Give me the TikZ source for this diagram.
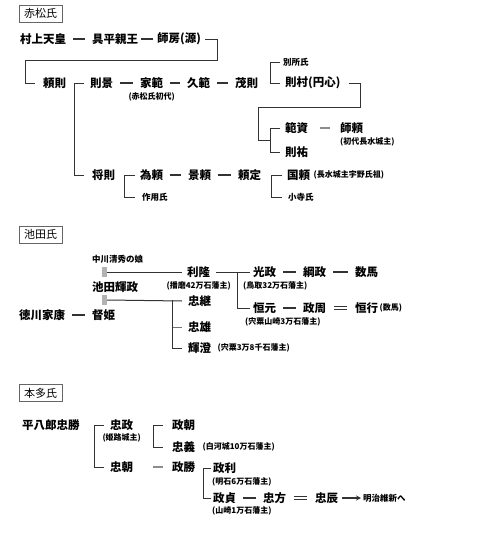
\documentclass[tikz,border=0pt]{standalone}
\usepackage{fontspec}
\setmainfont{Noto Sans CJK JP}
\usetikzlibrary{positioning, arrows.meta}

\begin{document}
\begin{tikzpicture}[x=1pt, y=-1pt,
    person/.style={anchor=west, inner sep=0pt, font=\fontsize{11.5}{12}\selectfont\bfseries},
    minor/.style={anchor=west, inner sep=0pt, font=\fontsize{8.5}{9}\selectfont\bfseries},
    memo/.style={inner sep=0pt, font=\fontsize{8}{9}\selectfont\bfseries},
    clanbox/.style={draw=black!60, line width=0.8pt, minimum width=43pt, minimum height=17pt,
      inner sep=0pt, font=\fontsize{11}{12}\selectfont},
    wedbar/.style={fill=black!30, minimum width=5pt, minimum height=10pt, inner sep=0pt},
    link/.style={black!80, line width=1pt},
    dashlink/.style={black!80, line width=1.4pt, shorten <=7pt, shorten >=7pt},
    eqlink/.style={black!80, double, double distance=2.2pt, line width=0.7pt, shorten <=8pt, shorten >=8pt},
  ]
    \useasboundingbox (0,0) rectangle (480,538);

    % 赤松氏
    \node[clanbox] (akamatsu) at (40.5,13.5) {赤松氏};
    \node[person] (murakami) at (20,39) {村上天皇};
    \node[person] (tomohira) at (92,39) {具平親王};
    \node[person] (morofusa) at (157,39) {師房(源)};
    \node[person] (yorinori) at (43,83) {頼則};
    \node[person] (norikage) at (90,83) {則景};
    \node[person] (kanori) at (140,83) {家範};
    \node[memo, below=4pt of kanori] {(赤松氏初代)};
    \node[person] (hisanori) at (187,83) {久範};
    \node[person] (shigenori) at (235,83) {茂則};
    \node[minor] (bessho) at (283,62) {別所氏};
    \node[person] (norimura) at (285,83) {則村(円心)};
    \node[person] (norisuke) at (285,128) {範資};
    \node[person] (moroyori) at (340,128) {師頼};
    \node[memo, anchor=north west] at ([yshift=-4pt]moroyori.south west) {(初代長水城主)};
    \node[person] (sokuyu) at (285,152) {則祐};
    \node[person] (masanori) at (92,175) {将則};
    \node[person] (tameyori) at (140,175) {為頼};
    \node[minor] (sayo) at (142,197) {作用氏};
    \node[person] (kageyori) at (188,175) {景頼};
    \node[person] (yorisada) at (238,175) {頼定};
    \node[person] (kuniyori) at (287,175) {国頼};
    \node[memo, right=3pt of kuniyori] {(長水城主宇野氏祖)};
    \node[minor] (kodera) at (288,197) {小寺氏};

    \draw[dashlink] (murakami) -- (tomohira);
    \draw[dashlink, shorten <=3pt, shorten >=4pt] (tomohira) -- (morofusa);
    \draw[link] ([xshift=4pt]morofusa.east) -| (217,60) -| (25,83) -- ([xshift=-8pt]yorinori.west);
    \draw[link] ([xshift=-6pt]norikage.west) -- ++(-10,0) |- ([xshift=-8pt]masanori.west);
    \draw[dashlink] (norikage) -- (kanori);
    \draw[dashlink] (kanori) -- (hisanori);
    \draw[dashlink] (hisanori) -- (shigenori);
    \draw[link] ([xshift=-3pt]bessho.west) -- ++(-10,0) |- ([xshift=-5pt]norimura.west);
    \draw[link] ([xshift=8pt]norimura.east) -| (360,107) -| (258,140) -- (270,140);
    \draw[link] ([xshift=-5pt]norisuke.west) -- ++(-10,0) |- ([xshift=-5pt]sokuyu.west);
    \draw[dashlink, black!45, shorten <=12pt, shorten >=10pt] (norisuke) -- (moroyori);
    \draw[link] ([xshift=-5pt]tameyori.west) -- ++(-11,0) |- ([xshift=-7pt]sayo.west);
    \draw[dashlink] (tameyori) -- (kageyori);
    \draw[dashlink] (kageyori) -- (yorisada);
    \draw[link] ([xshift=-5pt]kuniyori.west) -- ++(-11,0) |- ([xshift=-6pt]kodera.west);

    % 池田氏
    \node[clanbox] (ikeda) at (40.5,234.5) {池田氏};
    \node[minor] (nakagawa) at (92,259) {中川清秀の娘};
    \node[wedbar] (bar1) at (104.5,272) {};
    \node[person] (terumasa) at (92,287) {池田輝政};
    \node[wedbar] (bar2) at (104.5,300) {};
    \node[person] (ieyasu) at (19,315) {徳川家康};
    \node[person] (tokuhime) at (92,315) {督姫};
    \node[person] (toshitaka) at (187,272) {利隆};
    \node[memo, below=4pt of toshitaka] {(播磨42万石藩主)};
    \node[person] (tadatsugu) at (188,301) {忠継};
    \node[person] (tadakatsu) at (188,327) {忠雄};
    \node[person] (teruzumi) at (188,348) {輝澄};
    \node[memo, right=6pt of teruzumi] {(宍粟3万8千石藩主)};
    \node[person] (mitsumasa) at (253,272) {光政};
    \node[memo, anchor=north west] at ([xshift=-10pt,yshift=-4pt]mitsumasa.south west) {(鳥取32万石藩主)};
    \node[person] (tsunamasa) at (303,272) {綱政};
    \node[person] (kazuma) at (355,272) {数馬};
    \node[person] (tsunemoto) at (253,308) {恒元};
    \node[memo, anchor=north west] at ([xshift=-8pt,yshift=-4pt]tsunemoto.south west) {(宍粟山崎3万石藩主)};
    \node[person] (masachika) at (303,308) {政周};
    \node[person] (tsuneyuki) at (355,308) {恒行};
    \node[memo, right=1pt of tsuneyuki] {(数馬)};
    \coordinate (jA) at (237,272);
    \coordinate (jB) at (172,300);

    \draw[dashlink] (ieyasu) -- (tokuhime);
    \draw[link] (bar1.east) -- ([xshift=-5pt]toshitaka.west);
    \draw[link] ([xshift=6pt]toshitaka.east) -- ([xshift=-3pt]mitsumasa.west);
    \draw[link] (jA) |- ([xshift=-3pt]tsunemoto.west);
    \draw[dashlink] (mitsumasa) -- (tsunamasa);
    \draw[dashlink] (tsunamasa) -- (kazuma);
    \draw[dashlink] (tsunemoto) -- (masachika);
    \draw[eqlink] (masachika) -- (tsuneyuki);
    \draw[link] (bar2.east) -- ([xshift=-6pt]tadatsugu.west);
    \draw[link, black!55] (jB) |- ([xshift=-6pt]tadakatsu.west);
    \draw[link] (jB) |- ([xshift=-6pt]teruzumi.west);

    % 本多氏
    \node[clanbox] (honda) at (40.5,393) {本多氏};
    \node[person] (heihachiro) at (22,425) {平八郎忠勝};
    \node[person] (tadamasa) at (110,425) {忠政};
    \node[memo, below=3pt of tadamasa] {(姫路城主)};
    \node[person] (tadatomo) at (110,467) {忠朝};
    \node[person] (masatomo) at (172,425) {政朝};
    \node[person] (tadayoshi) at (172,447) {忠義};
    \node[memo, right=7pt of tadayoshi] {(白河城10万石藩主)};
    \node[person] (masakatsu) at (172,467) {政勝};
    \node[person] (masatoshi) at (213,468) {政利};
    \node[memo, anchor=north west] at ([xshift=-1pt,yshift=-4pt]masatoshi.south west) {(明石6万石藩主)};
    \node[person] (masasada) at (213,498) {政貞};
    \node[memo, anchor=north west] at ([xshift=-1pt,yshift=-3pt]masasada.south west) {(山崎1万石藩主)};
    \node[person] (tadakata) at (263,498) {忠方};
    \node[person] (tadatoki) at (315,498) {忠辰};
    \node[minor] (meiji) at (363,498) {明治維新へ};

    \draw[link] ([xshift=-6pt]tadamasa.west) -- ++(-10,0) |- ([xshift=-6pt]tadatomo.west);
    \draw[link] ([xshift=-9pt]masatomo.west) -- ++(-10,0) |- ([xshift=-9pt]tadayoshi.west);
    \draw[dashlink, black!45, shorten <=20pt, shorten >=9pt] (tadatomo) -- (masakatsu);
    \draw[link] ([xshift=-2pt]masatoshi.west) -- ++(-8,0) |- ([xshift=-2pt]masasada.west);
    \draw[dashlink] (masasada) -- (tadakata);
    \draw[eqlink] (tadakata) -- (tadatoki);
    \draw[link, line width=1.3pt, -{Stealth[length=5pt, width=5pt]}, shorten <=4pt, shorten >=2pt] (tadatoki) -- (meiji);
  \end{tikzpicture}
\end{document}
